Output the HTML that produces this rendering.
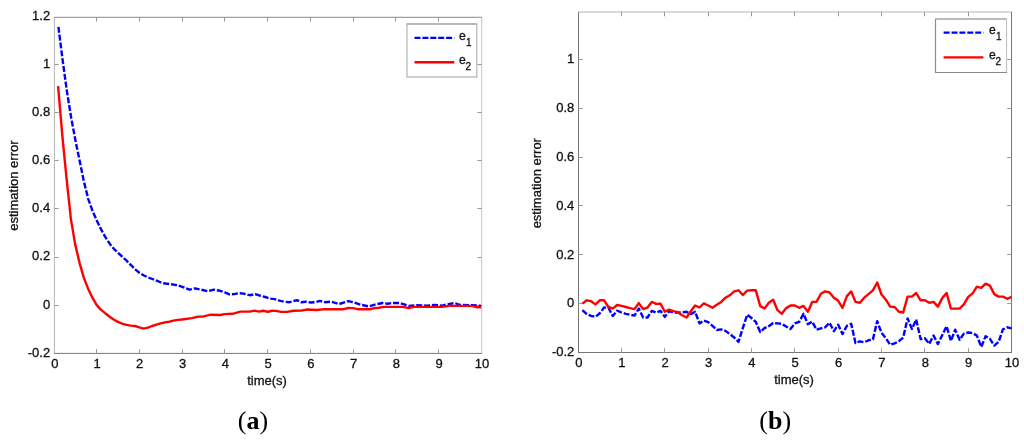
<!DOCTYPE html>
<html><head><meta charset="utf-8"><title>estimation error</title>
<style>
html,body{margin:0;padding:0;background:#fff;}
svg{display:block;}
text{font-family:"Liberation Sans",Arial,sans-serif;font-size:13px;fill:#111;stroke:#111;stroke-width:0.3px;}
.bl{fill:none;stroke:#0000ff;stroke-width:2.4;stroke-dasharray:6 1.9;stroke-linejoin:round;}
.rd{fill:none;stroke:#ff0000;stroke-width:2.4;stroke-linejoin:round;}
.lg{font-size:12.2px;}
.sub{font-size:10px;}

.cap{stroke:none;font-family:"Liberation Serif","Times New Roman",serif;font-size:26px;fill:#000;}
.cap tspan{font-weight:bold;}
</style></head><body>
<svg width="1024" height="442" viewBox="0 0 1024 442">
<rect width="1024" height="442" fill="#fff"/>
<!-- plot a -->
<path d="M53.9,17.3 H482.2" stroke="#888" stroke-width="1" fill="none"/>
<path d="M481.7,17.3 V353.4" stroke="#c4c4c4" stroke-width="1" fill="none"/>
<path d="M53.9,353.4 H482.2" stroke="#777" stroke-width="1" fill="none"/>
<path d="M54.4,17.3 V353.4" stroke="#b4b4b4" stroke-width="1" fill="none"/>
<text x="54.8" y="367.7" text-anchor="middle">0</text>
<text x="97.0" y="367.7" text-anchor="middle">1</text>
<text x="139.7" y="367.7" text-anchor="middle">2</text>
<text x="182.5" y="367.7" text-anchor="middle">3</text>
<text x="225.3" y="367.7" text-anchor="middle">4</text>
<text x="268.1" y="367.7" text-anchor="middle">5</text>
<text x="310.8" y="367.7" text-anchor="middle">6</text>
<text x="353.6" y="367.7" text-anchor="middle">7</text>
<text x="396.4" y="367.7" text-anchor="middle">8</text>
<text x="439.1" y="367.7" text-anchor="middle">9</text>
<text x="482.1" y="367.7" text-anchor="middle">10</text>
<text x="50.2" y="356.8" text-anchor="end">-0.2</text>
<text x="50.2" y="308.6" text-anchor="end">0</text>
<text x="50.2" y="260.4" text-anchor="end">0.2</text>
<text x="50.2" y="212.2" text-anchor="end">0.4</text>
<text x="50.2" y="164.1" text-anchor="end">0.6</text>
<text x="50.2" y="115.9" text-anchor="end">0.8</text>
<text x="50.2" y="67.7" text-anchor="end">1</text>
<text x="50.2" y="19.5" text-anchor="end">1.2</text>
<path d="M96.5,353.4 v-4.3 M96.5,17.3 v4.3 M139.5,353.4 v-4.3 M139.5,17.3 v4.3 M182.5,353.4 v-4.3 M182.5,17.3 v4.3 M224.5,353.4 v-4.3 M224.5,17.3 v4.3 M267.5,353.4 v-4.3 M267.5,17.3 v4.3 M310.5,353.4 v-4.3 M310.5,17.3 v4.3 M353.5,353.4 v-4.3 M353.5,17.3 v4.3 M395.5,353.4 v-4.3 M395.5,17.3 v4.3 M438.5,353.4 v-4.3 M438.5,17.3 v4.3 M54.4,305.5 h4.3 M481.7,305.5 h-4.3 M54.4,257.5 h4.3 M481.7,257.5 h-4.3 M54.4,208.5 h4.3 M481.7,208.5 h-4.3 M54.4,160.5 h4.3 M481.7,160.5 h-4.3 M54.4,112.5 h4.3 M481.7,112.5 h-4.3 M54.4,64.5 h4.3 M481.7,64.5 h-4.3" stroke="#999" stroke-width="1" fill="none"/>
<path d="M58.4,26.8 L62.7,60.7 L66.9,91.2 L71.2,117.8 L75.5,140.7 L79.8,161.5 L84.0,181.9 L88.3,199.1 L92.6,211.1 L96.9,220.8 L101.1,229.4 L105.4,237.2 L109.7,243.7 L113.9,248.8 L118.2,253.0 L122.5,256.9 L126.8,260.9 L131.0,265.2 L135.3,269.4 L139.6,273.0 L143.9,275.5 L148.1,277.4 L152.4,279.0 L156.7,280.7 L161.0,282.5 L165.2,283.5 L169.5,284.0 L173.8,284.6 L178.0,285.4 L182.3,286.8 L189.5,289.7 L195.0,288.4 L201.2,289.7 L207.5,291.2 L213.8,289.7 L220.0,290.8 L224.7,292.3 L229.4,294.4 L234.1,294.1 L238.8,293.1 L243.4,293.6 L249.7,295.2 L255.2,294.1 L260.6,295.9 L265.3,297.0 L270.0,298.6 L274.7,299.1 L279.4,300.6 L284.1,301.7 L289.5,302.2 L295.0,300.6 L297.3,300.2 L301.2,302.2 L305.9,301.7 L310.6,302.5 L315.3,302.2 L320.0,300.9 L325.0,302.2 L331.2,301.7 L339.1,304.1 L348.4,301.2 L353.1,302.2 L360.9,304.8 L368.8,306.4 L376.6,304.1 L382.8,303.0 L387.5,303.8 L392.2,303.0 L400.0,303.0 L408.6,305.9 L415.6,305.3 L426.6,305.6 L434.4,305.0 L442.2,305.6 L448.4,304.1 L454.7,303.0 L459.4,304.8 L471.9,305.2 L481.2,305.9" class="bl"/>
<path d="M58.1,86.1 L62.4,136.3 L66.6,178.9 L70.9,219.1 L75.2,244.4 L79.5,262.6 L83.7,277.4 L88.0,288.4 L92.3,297.4 L96.6,304.9 L100.8,309.6 L105.1,313.2 L109.4,316.5 L113.6,319.5 L117.9,321.9 L122.2,323.6 L126.5,324.9 L130.7,325.6 L135.0,326.0 L139.3,327.4 L143.6,328.6 L147.8,327.7 L152.1,326.0 L156.4,324.6 L160.7,323.4 L164.9,322.4 L169.2,321.7 L173.5,320.6 L177.7,319.9 L182.0,319.5 L191.9,318.1 L198.1,316.6 L202.8,316.6 L210.6,314.7 L220.0,315.0 L224.7,314.1 L232.5,313.8 L240.3,311.6 L249.7,311.6 L254.4,310.6 L259.1,311.6 L263.0,310.8 L267.7,311.7 L272.3,310.8 L276.2,310.9 L280.9,311.9 L287.2,311.9 L293.4,310.8 L301.2,310.6 L307.5,309.5 L316.9,310.0 L324.7,309.1 L325.0,309.2 L343.8,309.2 L348.4,308.0 L353.1,308.1 L357.8,309.2 L370.3,309.2 L375.0,308.0 L378.9,307.7 L383.6,306.9 L403.1,306.9 L408.6,308.1 L414.1,306.9 L442.2,306.9 L448.4,305.9 L471.9,305.9 L476.6,307.2 L481.2,307.2" class="rd"/>
<rect x="407.0" y="24.0" width="69.8" height="53.0" fill="#fff" stroke="none"/>
<path d="M406.5,24.0 H477.3" stroke="#707070" stroke-width="1.2" fill="none"/>
<path d="M476.8,24.0 V77.0" stroke="#b4b4b4" stroke-width="1.2" fill="none"/>
<path d="M406.5,77.0 H477.3" stroke="#a4a4a4" stroke-width="1.2" fill="none"/>
<path d="M407.0,24.0 V77.0" stroke="#b4b4b4" stroke-width="1.2" fill="none"/>
<path d="M414.5,37.9 H454.3" class="bl"/>
<path d="M414.5,62.2 H454.3" class="rd"/>
<text x="459.0" y="39.5" class="lg">e<tspan dy="6.0" dx="0.2" class="sub">1</tspan></text>
<text x="459.0" y="63.8" class="lg">e<tspan dy="6.0" dx="-0.3" class="sub">2</tspan></text>
<text transform="translate(17.9,185.6) rotate(-90)" text-anchor="middle">estimation error</text>
<text x="267" y="384.5" text-anchor="middle">time(s)</text>
<text x="253" y="429" text-anchor="middle" class="cap">(<tspan>a</tspan>)</text>
<!-- plot b -->
<path d="M578.0,12.0 H1012.0" stroke="#b4b4b4" stroke-width="1" fill="none"/>
<path d="M1011.5,12.0 V352.5" stroke="#777" stroke-width="1" fill="none"/>
<path d="M578.0,352.5 H1012.0" stroke="#777" stroke-width="1" fill="none"/>
<path d="M578.5,12.0 V352.5" stroke="#777" stroke-width="1" fill="none"/>
<text x="578.9" y="366.8" text-anchor="middle">0</text>
<text x="621.9" y="366.8" text-anchor="middle">1</text>
<text x="665.2" y="366.8" text-anchor="middle">2</text>
<text x="708.6" y="366.8" text-anchor="middle">3</text>
<text x="751.9" y="366.8" text-anchor="middle">4</text>
<text x="795.2" y="366.8" text-anchor="middle">5</text>
<text x="838.6" y="366.8" text-anchor="middle">6</text>
<text x="881.9" y="366.8" text-anchor="middle">7</text>
<text x="925.3" y="366.8" text-anchor="middle">8</text>
<text x="968.6" y="366.8" text-anchor="middle">9</text>
<text x="1011.9" y="366.8" text-anchor="middle">10</text>
<text x="574.3" y="356.1" text-anchor="end">-0.2</text>
<text x="574.3" y="307.3" text-anchor="end">0</text>
<text x="574.3" y="258.5" text-anchor="end">0.2</text>
<text x="574.3" y="209.7" text-anchor="end">0.4</text>
<text x="574.3" y="161.0" text-anchor="end">0.6</text>
<text x="574.3" y="112.2" text-anchor="end">0.8</text>
<text x="574.3" y="63.4" text-anchor="end">1</text>
<path d="M621.5,352.5 v-4.3 M621.5,12.0 v4.3 M664.5,352.5 v-4.3 M664.5,12.0 v4.3 M708.5,352.5 v-4.3 M708.5,12.0 v4.3 M751.5,352.5 v-4.3 M751.5,12.0 v4.3 M794.5,352.5 v-4.3 M794.5,12.0 v4.3 M838.5,352.5 v-4.3 M838.5,12.0 v4.3 M881.5,352.5 v-4.3 M881.5,12.0 v4.3 M924.5,352.5 v-4.3 M924.5,12.0 v4.3 M968.5,352.5 v-4.3 M968.5,12.0 v4.3 M578.5,303.5 h4.3 M1011.5,303.5 h-4.3 M578.5,254.5 h4.3 M1011.5,254.5 h-4.3 M578.5,205.5 h4.3 M1011.5,205.5 h-4.3 M578.5,157.5 h4.3 M1011.5,157.5 h-4.3 M578.5,108.5 h4.3 M1011.5,108.5 h-4.3 M578.5,59.5 h4.3 M1011.5,59.5 h-4.3" stroke="#999" stroke-width="1" fill="none"/>
<path d="M582.4,310.2 L586.8,314.1 L591.1,315.9 L595.4,316.9 L599.8,313.3 L604.1,307.5 L608.4,307.8 L612.8,315.9 L617.1,310.6 L621.5,312.5 L625.8,313.8 L630.1,314.8 L634.5,315.6 L638.8,308.6 L643.1,317.5 L647.5,317.5 L651.8,310.9 L656.1,312.5 L660.5,310.9 L664.8,316.9 L669.1,311.2 L673.5,312.5 L677.8,312.5 L682.1,312.5 L686.5,311.7 L690.8,314.1 L695.1,311.7 L699.5,323.4 L703.8,320.6 L708.2,322.2 L712.5,325.8 L716.8,330.0 L721.2,329.4 L725.5,330.9 L729.8,334.1 L734.2,337.5 L738.5,341.9 L742.8,328.1 L747.2,314.8 L751.5,318.0 L755.8,321.9 L760.2,332.0 L764.5,328.1 L768.8,326.2 L773.2,323.1 L777.5,323.4 L781.8,323.8 L786.2,326.6 L790.5,328.9 L794.9,323.4 L799.2,321.9 L803.5,313.8 L807.9,324.2 L812.2,321.6 L816.5,329.7 L820.9,328.4 L825.2,327.3 L829.5,322.7 L833.9,331.2 L838.2,324.7 L842.5,334.1 L846.9,325.8 L851.2,323.8 L855.5,343.0 L859.9,341.4 L864.2,342.2 L868.5,340.3 L872.9,339.4 L877.2,321.1 L881.5,332.8 L885.9,338.3 L890.2,344.8 L894.6,343.3 L898.9,341.2 L903.2,337.5 L907.6,318.4 L911.9,328.9 L916.2,319.5 L920.6,339.1 L924.9,338.3 L929.2,343.8 L933.6,335.6 L937.9,344.1 L942.2,335.2 L946.6,326.2 L950.9,340.9 L955.2,329.7 L959.6,339.8 L963.9,333.6 L968.2,332.5 L972.6,333.1 L976.9,335.6 L981.3,346.9 L985.6,336.2 L989.9,338.8 L994.3,345.6 L998.6,341.9 L1002.9,329.4 L1007.3,327.3 L1011.6,328.4" class="bl"/>
<path d="M582.4,303.6 L586.8,300.3 L591.1,301.2 L595.4,304.4 L599.8,300.3 L604.1,300.3 L608.4,307.0 L612.8,308.6 L617.1,305.0 L621.5,305.9 L625.8,307.0 L630.1,308.1 L634.5,309.1 L638.8,303.1 L643.1,309.1 L647.5,307.5 L651.8,301.9 L656.1,303.9 L660.5,303.6 L664.8,311.7 L669.1,309.7 L673.5,311.2 L677.8,312.2 L682.1,315.3 L686.5,317.5 L690.8,311.2 L695.1,305.5 L699.5,307.5 L703.8,303.4 L708.2,305.5 L712.5,307.8 L716.8,304.7 L721.2,301.9 L725.5,297.7 L729.8,295.3 L734.2,291.4 L738.5,290.3 L742.8,295.0 L747.2,290.6 L751.5,290.3 L755.8,290.3 L760.2,305.9 L764.5,308.6 L768.8,302.8 L773.2,299.7 L777.5,310.2 L781.8,313.8 L786.2,308.1 L790.5,305.5 L794.9,305.5 L799.2,307.8 L803.5,305.9 L807.9,311.7 L812.2,301.9 L816.5,301.9 L820.9,293.8 L825.2,291.4 L829.5,292.5 L833.9,297.7 L838.2,300.8 L842.5,307.8 L846.9,296.1 L851.2,291.4 L855.5,301.9 L859.9,302.8 L864.2,297.7 L868.5,294.1 L872.9,290.3 L877.2,282.5 L881.5,294.5 L885.9,299.7 L890.2,306.6 L894.6,307.0 L898.9,311.7 L903.2,312.5 L907.6,296.6 L911.9,296.6 L916.2,293.0 L920.6,300.3 L924.9,300.3 L929.2,302.8 L933.6,301.9 L937.9,306.6 L942.2,298.1 L946.6,293.0 L950.9,308.6 L955.2,308.6 L959.6,308.6 L963.9,304.4 L968.2,296.9 L972.6,293.4 L976.9,286.7 L981.3,287.8 L985.6,283.6 L989.9,285.6 L994.3,294.1 L998.6,296.6 L1002.9,296.6 L1007.3,298.8 L1011.6,296.9" class="rd"/>
<rect x="935.5" y="19.0" width="71.0" height="53.5" fill="#fff" stroke="none"/>
<path d="M935.0,19.0 H1007.0" stroke="#787878" stroke-width="1.2" fill="none"/>
<path d="M1006.5,19.0 V72.5" stroke="#c4c4c4" stroke-width="1.2" fill="none"/>
<path d="M935.0,72.5 H1007.0" stroke="#888" stroke-width="1.2" fill="none"/>
<path d="M935.5,19.0 V72.5" stroke="#909090" stroke-width="1.2" fill="none"/>
<path d="M943.6,32.6 H983.4" class="bl"/>
<path d="M943.6,57.4 H983.4" class="rd"/>
<text x="989.0" y="34.2" class="lg">e<tspan dy="6.0" dx="0.2" class="sub">1</tspan></text>
<text x="989.0" y="59.0" class="lg">e<tspan dy="6.0" dx="-0.3" class="sub">2</tspan></text>
<text transform="translate(540.6,183.2) rotate(-90)" text-anchor="middle">estimation error</text>
<text x="794" y="383.8" text-anchor="middle">time(s)</text>
<text x="775.2" y="429" text-anchor="middle" class="cap">(<tspan>b</tspan>)</text>
</svg>
</body></html>
